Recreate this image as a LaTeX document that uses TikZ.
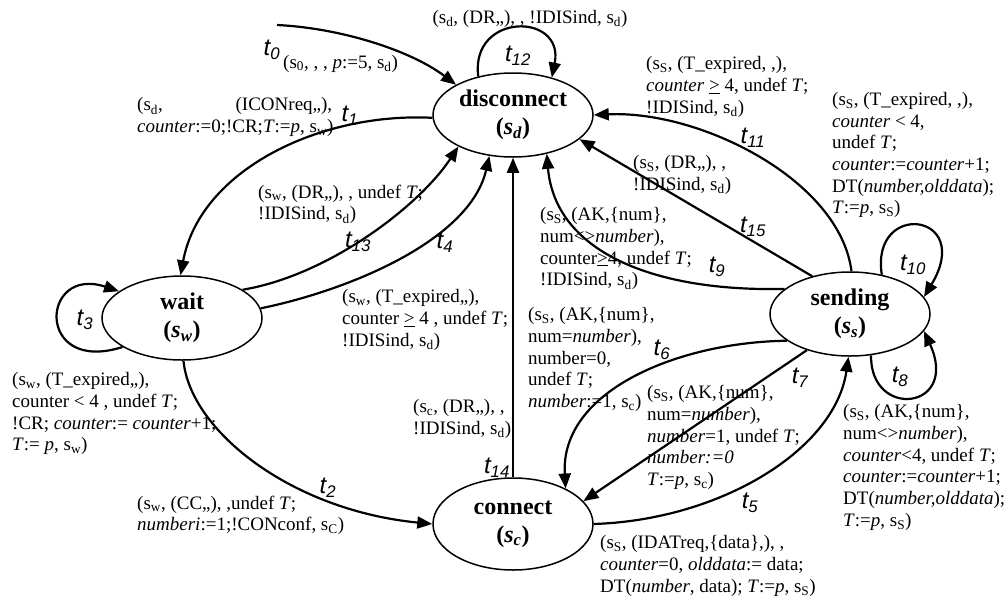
\documentclass[tikz,border=0pt]{standalone}
\usepackage{fontspec}
\setmainfont{Liberation Serif}
\newfontfamily\tfont{Liberation Sans}
\usetikzlibrary{shapes.geometric,arrows.meta}
\newcommand{\sx}[1]{s\textsubscript{#1}}
\newcommand{\tl}[1]{{\tfont\itshape t\textsubscript{#1}}}
\newcommand{\stn}[1]{\textbf{(\textit{s}\textsubscript{\textit{#1}})}}

\begin{document}
\begin{tikzpicture}[x=1pt,y=-1pt,
  st/.style={ellipse,draw,line width=1.5pt,minimum width=160pt,minimum height=84pt,inner sep=0pt,align=center,font=\fontsize{24}{28}\selectfont\bfseries},
  arr/.style={-{Triangle[length=15pt,width=12pt]},line width=2.2pt},
  lb/.style={font=\fontsize{24}{24}\selectfont,inner sep=0pt},
  tx/.style={anchor=north west,align=left,inner sep=0pt,font=\fontsize{19}{21.7}\selectfont}]
\useasboundingbox (0,0) rectangle (1005,598);
% states
\node[st] (dis) at (513,115) {disconnect\\\stn{d}};
\node[st] (wait) at (182,318) {wait\\\stn{w}};
\node[st] (send) at (850,314) {sending\\\stn{s}};
\node[st,minimum height=92pt] (con) at (513,524) {connect\\\stn{c}};
\coordinate (t0s) at (277,25);
% transitions
\draw[arr] (t0s) .. controls (340,28) and (410,50) .. (dis.152);
\draw[arr] (dis.132) .. controls (470,12) and (565,12) .. (dis.44);
\draw[arr] (dis.182) .. controls (320,112) and (200,170) .. (wait.92);
\draw[arr] (wait.25) .. controls (330,275) and (420,205) .. (dis.210);
\draw[arr] (wait.7) .. controls (350,290) and (470,240) .. (dis.240);
\draw[arr] (wait.206) .. controls (35,375) and (40,265) .. (wait.157);
\draw[arr] (wait.272) .. controls (190,430) and (290,510) .. (con.west);
\draw[arr] (con.north) -- (dis.south);
\draw[arr] (send.159) .. controls (650,292) and (555,250) .. (dis.311);
\draw[arr] (send.135) -- (dis.340);
\draw[arr] (send.88) .. controls (840,180) and (700,110) .. (dis.east);
\draw[arr] (send.51) .. controls (870,200) and (975,212) .. (send.13);
\draw[arr] (send.297) .. controls (870,420) and (960,410) .. (send.347);
\draw[arr] (send.203) .. controls (680,342) and (560,390) .. (con.34);
\draw[arr] (send.220) -- (con.18);
\draw[arr] (con.east) .. controls (720,520) and (835,450) .. (send.268);
% transition names
\node[lb] (l0) at (272,50) {\tl{0}};
\node[lb] (l1) at (350,116) {\tl{1}};
\node[lb] (l2) at (328,488) {\tl{2}};
\node[lb] (l3) at (85,320) {\tl{3}};
\node[lb] (l4) at (445,243) {\tl{4}};
\node[lb] (l5) at (750,503) {\tl{5}};
\node[lb] (l6) at (662,350) {\tl{6}};
\node[lb] (l7) at (800,378) {\tl{7}};
\node[lb] (l8) at (900,377) {\tl{8}};
\node[lb] (l9) at (717,267) {\tl{9}};
\node[lb] (l10) at (913,265) {\tl{10}};
\node[lb] (l11) at (753,138) {\tl{11}};
\node[lb] (l12) at (518,56) {\tl{12}};
\node[lb] (l13) at (358,242) {\tl{13}};
\node[lb] (l14) at (497,468) {\tl{14}};
\node[lb] (l15) at (753,227) {\tl{15}};
% guards and actions
\node[tx,anchor=base west] (g0) at (283,68) {(\sx{0}, , , \textit{p}:=5, \sx{d})};
\node[tx,anchor=base] (g12) at (530,23) {(\sx{d}, (DR,,), , !IDISind, \sx{d})};
\node[tx] (g1) at (137,97.5) {\makebox[195pt][s]{(\sx{d}, (ICONreq,,),}\\\textit{counter}:=0;!CR;\textit{T}:=\textit{p}, \sx{w})};
\node[tx] (g13) at (258,184.5) {(\sx{w}, (DR,,), , undef \textit{T};\\!IDISind, \sx{d})};
\node[tx] (g4) at (342,289.5) {(\sx{w}, (T\_expired,,),\\counter \underline{>} 4 , undef \textit{T};\\!IDISind, \sx{d})};
\node[tx] (g3) at (12,372.5) {(\sx{w}, (T\_expired,,),\\counter < 4 , undef \textit{T};\\!CR; \textit{counter}:= \textit{counter}+1;\\\textit{T}:= \textit{p}, \sx{w})};
\node[tx] (g2) at (137,495.5) {(\sx{w}, (CC,,), ,undef \textit{T};\\\textit{numberi}:=1;!CONconf, \sx{C})};
\node[tx] (g14) at (413,399.5) {(\sx{c}, (DR,,), ,\\!IDISind, \sx{d})};
\node[tx] (g9) at (540,207.5) {(\sx{S}, (AK,\{num\},\\num<>\textit{number}),\\counter\underline{>}4, undef \textit{T};\\!IDISind, \sx{d})};
\node[tx] (g15) at (633,155.5) {(\sx{S}, (DR,,), ,\\!IDISind, \sx{d})};
\node[tx] (g11) at (646,56.5) {(\sx{S}, (T\_expired, ,),\\\textit{counter} \underline{>} 4, undef \textit{T};\\!IDISind, \sx{d})};
\node[tx] (g10) at (832,92) {(\sx{S}, (T\_expired, ,),\\\textit{counter} < 4,\\undef \textit{T};\\\textit{counter}:=\textit{counter}+1;\\DT(\textit{number,olddata});\\\textit{T}:=\textit{p}, \sx{S})};
\node[tx] (g6) at (528,307.5) {(\sx{S}, (AK,\{num\},\\num=\textit{number}),\\number=0,\\undef \textit{T};\\\textit{number}:=1, \sx{c})};
\node[tx] (g7) at (647,385.5) {(\sx{S}, (AK,\{num\},\\num=\textit{number}),\\\textit{number}=1, undef \textit{T};\\\textit{number:=0}\\\textit{T}:=\textit{p}, \sx{c})};
\node[tx] (g5) at (600,535.5) {(\sx{S}, (IDATreq,\{data\},), ,\\\textit{counter}=0, \textit{olddata}:= data;\\DT(\textit{number}, data); \textit{T}:=\textit{p}, \sx{S})};
\node[tx] (g8) at (843,404.5) {(\sx{S}, (AK,\{num\},\\num<>\textit{number}),\\\textit{counter}<4, undef \textit{T};\\\textit{counter}:=\textit{counter}+1;\\DT(\textit{number,olddata});\\\textit{T}:=\textit{p}, \sx{S})};
\end{tikzpicture}
\end{document}
